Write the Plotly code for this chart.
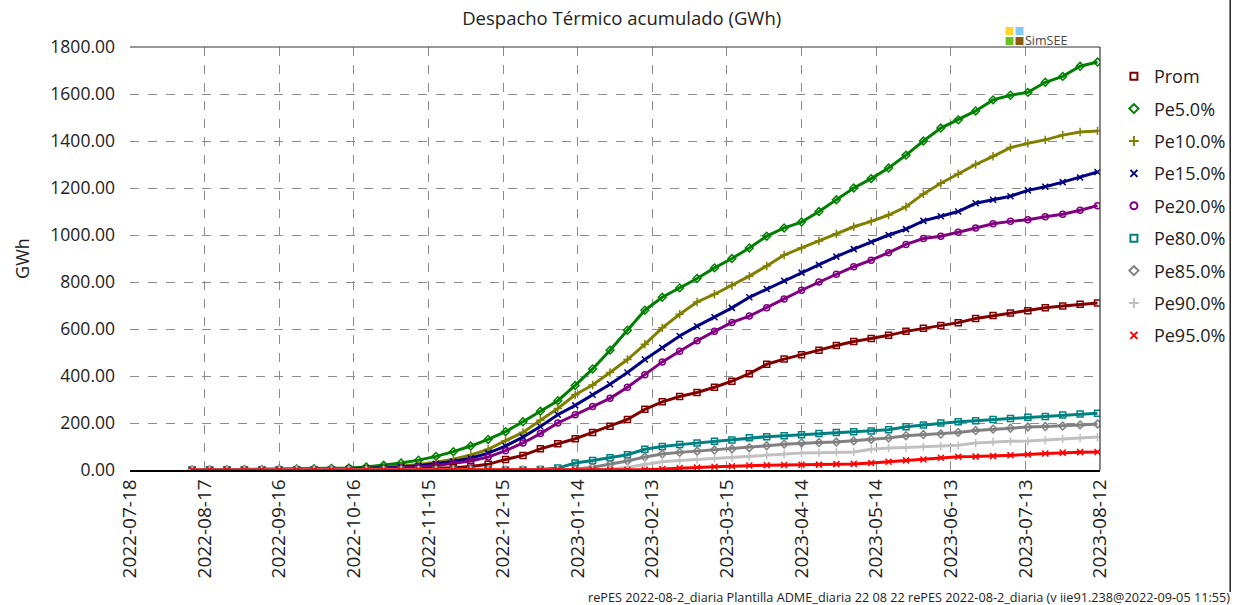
import pandas as pd
import plotly.graph_objects as go

# Weekly sampling dates (accumulated thermal dispatch, GWh)
dates = pd.date_range("2022-08-12", periods=53, freq="7D")

prom = [0, 0, 0, 0, 0.5, 0.5, 1, 1, 1.5, 2, 2.5, 3, 4, 5, 7, 10, 15, 24, 45, 62,
        90, 112, 133, 160, 186, 215, 258, 290, 313, 330, 352, 378, 410, 450, 472, 490,
        510, 530, 547, 560, 573, 590, 603, 615, 627, 645, 657, 668, 678, 690, 698, 705, 711]
pe5 = [0, 1, 1, 2, 2, 3, 4, 5, 7, 9, 13, 20, 30, 42, 58, 78, 102, 130, 163, 205,
       250, 295, 360, 430, 510, 595, 680, 735, 775, 815, 860, 900, 945, 995, 1030, 1055,
       1100, 1150, 1200, 1240, 1285, 1340, 1400, 1455, 1490, 1528, 1575, 1595, 1607, 1650,
       1675, 1718, 1736]
pe10 = [0, 0.5, 1, 1, 1.5, 2, 2.5, 3, 4, 5, 7, 11, 16, 23, 33, 46, 64, 88, 125, 160,
        212, 262, 320, 362, 415, 470, 535, 605, 663, 715, 748, 785, 825, 868, 915, 945,
        975, 1005, 1035, 1058, 1085, 1120, 1175, 1220, 1260, 1300, 1335, 1372, 1390, 1405,
        1425, 1438, 1443]
pe15 = [0, 0, 0.5, 1, 1, 1.5, 2, 2.5, 3, 4, 6, 9, 13, 18, 26, 36, 50, 72, 102, 140,
        185, 235, 275, 320, 365, 415, 470, 520, 570, 612, 650, 690, 735, 770, 805, 840,
        873, 908, 940, 970, 1000, 1025, 1060, 1080, 1100, 1135, 1150, 1165, 1190, 1205,
        1225, 1245, 1268]
pe20 = [0, 0, 0, 0.5, 1, 1, 1.5, 2, 2.5, 3, 4, 6, 9, 13, 19, 27, 38, 55, 82, 115,
        155, 200, 235, 270, 305, 352, 405, 460, 505, 550, 590, 628, 655, 690, 728, 765,
        800, 833, 865, 893, 925, 960, 985, 995, 1012, 1030, 1048, 1058, 1065, 1078,
        1088, 1105, 1125]
pe80 = [0] * 19 + [0.5, 2, 8, 30, 40, 52, 65, 88, 100, 108, 115, 122, 128, 137, 142,
                   146, 150, 155, 160, 163, 166, 171, 184, 192, 200, 205, 210, 215, 219,
                   225, 228, 234, 238, 242]
pe85 = [0] * 22 + [3, 12, 25, 38, 55, 68, 75, 80, 85, 90, 95, 103, 110, 115, 117, 119,
                   124, 130, 136, 146, 151, 153, 160, 168, 174, 178, 183, 185, 187, 192, 196]
pe90 = [0] * 24 + [3, 12, 25, 35, 40, 45, 50, 53, 57, 63, 68, 72, 73, 75, 77, 88, 94,
                   96, 98, 101, 105, 115, 120, 122, 123, 127, 132, 136, 140]
pe95 = [0] * 26 + [1, 4, 8, 11, 14, 16, 19, 20, 21, 22, 23, 25, 26, 30, 35, 41, 45, 52,
                   56, 57, 59, 63, 66, 70, 74, 76, 77]

series_names = ["Prom", "Pe5.0%", "Pe10.0%", "Pe15.0%", "Pe20.0%",
                "Pe80.0%", "Pe85.0%", "Pe90.0%", "Pe95.0%"]
series_values = [prom, pe5, pe10, pe15, pe20, pe80, pe85, pe90, pe95]
series_colors = ["#800000", "#008000", "#808000", "#000080", "#800080",
                 "#008080", "#808080", "#C0C0C0", "#FF0000"]
series_symbols = ["square-open", "diamond-open", "cross-thin", "x-thin", "circle-open",
                  "square-open", "diamond-open", "cross-thin", "x-thin"]

tick_dates = pd.date_range("2022-07-18", periods=14, freq="30D")
tick_labels = [d.strftime("%Y-%m-%d") for d in tick_dates]
y_ticks = list(range(0, 1801, 200))

FONT = "Open Sans, Noto Sans, sans-serif"
TXT = "#222222"

# plot-area pixel box inside the 1243x605 page
L, R, T, B = 130, 1106, 47, 470
W, H = 1243, 605


def px(xp):
    return (xp - L) / (R - L)


def py(yp):
    return (B - yp) / (B - T)


fig = go.Figure()

# draw from the top of the stack downwards so the lowest percentile sits on top
order = [1, 2, 3, 4, 0, 5, 6, 7, 8]
for i in order:
    fig.add_trace(go.Scatter(
        x=dates, y=series_values[i], mode="lines+markers", showlegend=False,
        line=dict(color=series_colors[i], width=3),
        marker=dict(symbol=series_symbols[i], size=6, color=series_colors[i],
                    line=dict(color=series_colors[i], width=1.5)),
        hoverinfo="skip",
    ))

# legend entries: marker only
for i, name in enumerate(series_names):
    fig.add_trace(go.Scatter(
        x=[None], y=[None], mode="markers", name=name, legendgroup=name,
        marker=dict(symbol=series_symbols[i], size=7, color=series_colors[i],
                    line=dict(color=series_colors[i], width=2)),
    ))

grid = dict(showgrid=True, gridcolor="#8c8c8c", griddash="dash", gridwidth=1)

fig.update_xaxes(
    type="date", range=[tick_dates[0], tick_dates[-1]],
    tickmode="array", tickvals=list(tick_dates), ticktext=tick_labels,
    tickangle=-90, ticks="", tickfont=dict(size=19, color=TXT, family=FONT),
    showline=True, linecolor="black", linewidth=1.5, mirror=False,
    zeroline=False, **grid,
)
fig.update_yaxes(
    range=[0, 1800], tickmode="array", tickvals=y_ticks,
    ticktext=[f"{v:.2f}" for v in y_ticks], ticks="", ticklabelstandoff=14,
    tickfont=dict(size=17.5, color=TXT, family=FONT),
    title=dict(text="GWh", font=dict(size=18, color=TXT, family=FONT), standoff=16),
    showline=False, zeroline=False, **grid,
)

shapes = [
    # top and right frame of the plot area
    dict(type="line", xref="paper", yref="paper", x0=0, x1=1, y0=1, y1=1,
         line=dict(color="#333333", width=1.2)),
    dict(type="line", xref="paper", yref="paper", x0=1, x1=1, y0=0, y1=1,
         line=dict(color="#333333", width=1.2)),
    # outer frame line on the right of the page
    dict(type="line", xref="paper", yref="paper", x0=px(1237), x1=px(1237),
         y0=py(0), y1=py(592), line=dict(color="#222222", width=1.5)),
]
# SimSEE logo squares
logo = [(1011, 27, "#FFD42A"), (1021, 27, "#80C8F5"),
        (1011, 37, "#6CC21C"), (1021, 37, "#8B5A0A")]
for x0, y0, c in logo:
    shapes.append(dict(type="rect", xref="paper", yref="paper",
                       x0=px(x0), x1=px(x0 + 8), y0=py(y0 + 8), y1=py(y0),
                       fillcolor=c, line=dict(width=0)))

annotations = [
    dict(text="SimSEE", xref="paper", yref="paper", x=px(1029), y=py(40),
         xanchor="left", yanchor="middle", showarrow=False,
         font=dict(size=12.5, color="#444444", family=FONT)),
    dict(text="rePES 2022-08-2_diaria Plantilla ADME_diaria 22 08 22 rePES 2022-08-2_diaria "
              "(v iie91.238@2022-09-05 11:55)",
         xref="paper", yref="paper", x=px(1239), y=py(597),
         xanchor="right", yanchor="middle", showarrow=False,
         font=dict(size=12.7, color=TXT, family=FONT)),
]

fig.update_layout(
    width=W, height=H,
    margin=dict(l=L, r=W - R, t=T, b=H - B),
    paper_bgcolor="white", plot_bgcolor="white",
    title=dict(text="Despacho Térmico acumulado (GWh)", x=(L + R) / 2 / W + 0.003,
               xanchor="center", y=1 - 19 / H, yanchor="middle",
               font=dict(size=18.5, color=TXT, family=FONT)),
    font=dict(family=FONT, color=TXT),
    legend=dict(x=px(1120), y=py(58), xanchor="left", yanchor="top",
                font=dict(size=18, color=TXT, family=FONT),
                tracegroupgap=6, itemwidth=30, bgcolor="rgba(0,0,0,0)"),
    shapes=shapes, annotations=annotations,
)

fig.write_html("out.html")
